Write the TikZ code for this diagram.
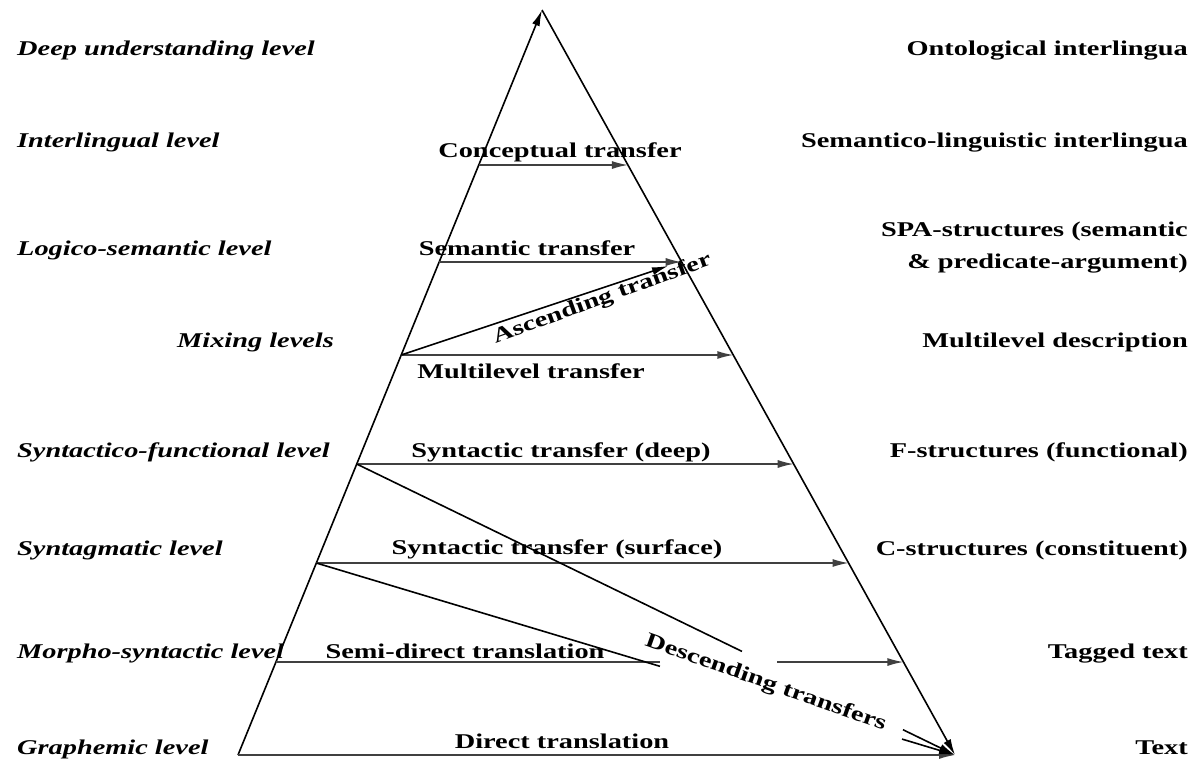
\documentclass[tikz,border=0pt]{standalone}
\usepackage{fontspec}
\setmainfont{Liberation Serif}[FakeStretch=1.35]
\usetikzlibrary{arrows.meta,calc}
\begin{document}
\begin{tikzpicture}[x=1pt,y=-1pt,
  every node/.style={font=\fontsize{21}{25}\selectfont\bfseries, inner sep=0pt},
  level/.style={anchor=base west, font=\fontsize{21}{25}\selectfont\bfseries\itshape},
  repr/.style={anchor=base east},
  transfer/.style={anchor=base},
  tip/.style={-{Latex[length=16pt,width=8pt]}},
  edge/.style={line width=1.6pt, black},
  tr/.style={line width=1.4pt, black!75},
]
\useasboundingbox (0,0) rectangle (1195,764);

% pyramid corners
\coordinate (A)  at (542,10);
\coordinate (BL) at (238,755);
\coordinate (BR) at (955,755);

% level points on the left and right sides
\coordinate (L1) at (478.8,165); \coordinate (R1) at (627.9,165);
\coordinate (L2) at (439.2,262); \coordinate (R2) at (681.7,262);
\coordinate (L3) at (401.2,355); \coordinate (R3) at (733.3,355);
\coordinate (L4) at (356.7,464); \coordinate (R4) at (793.7,464);
\coordinate (L5) at (316.3,563); \coordinate (R5) at (848.6,563);
\coordinate (L6) at (275.9,662); \coordinate (R6) at (903.4,662);

% levels
\node[level] (lv1) at (17,55)  {Deep understanding level};
\node[level] (lv2) at (17,147) {Interlingual level};
\node[level] (lv3) at (17,255) {Logico-semantic level};
\node[level] (lv4) at (177,347) {Mixing levels};
\node[level] (lv5) at (17,457) {Syntactico-functional level};
\node[level] (lv6) at (17,555) {Syntagmatic level};
\node[level] (lv7) at (17,658) {Morpho-syntactic level};
\node[level] (lv8) at (17,754) {Graphemic level};

% representations
\node[repr] (rp1) at (1188,55)  {Ontological interlingua};
\node[repr] (rp2) at (1188,147) {Semantico-linguistic interlingua};
\node[repr] (rp3a) at (1188,236) {SPA-structures (semantic};
\node[repr] (rp3b) at (1188,268) {\& predicate-argument)};
\node[repr] (rp4) at (1188,347) {Multilevel description};
\node[repr] (rp5) at (1188,457) {F-structures (functional)};
\node[repr] (rp6) at (1188,555) {C-structures (constituent)};
\node[repr] (rp7) at (1188,658) {Tagged text};
\node[repr] (rp8) at (1188,754) {Text};

% transfer labels
\node[transfer] (t1) at (560,157) {Conceptual transfer};
\node[transfer] (t2) at (527,255) {Semantic transfer};
\node[transfer] (t3) at (531,378) {Multilevel transfer};
\node[transfer] (t4) at (561,457) {Syntactic transfer (deep)};
\node[transfer] (t5) at (557,554) {Syntactic transfer (surface)};
\node[transfer] (t6) at (465,658) {Semi-direct translation};
\node[transfer] (t7) at (562,748) {Direct translation};
\node[transfer, rotate=20] (asc) at (604,304) {Ascending transfer};
\node[transfer, rotate=-19.5] (desc) at (764,688) {Descending transfers};

% pyramid sides
\draw[edge, tip] (BL) -- (A);
\draw[edge, tip] (A) -- (BR);

% horizontal transfers
\draw[tr, tip] (BL) -- (BR);
\draw[tr, tip] (L1) -- (R1);
\draw[tr, tip] (L2) -- (R2);
\draw[tr, tip] (L3) -- (R3);
\draw[tr, tip] (L4) -- (R4);
\draw[tr, tip] (L5) -- (R5);
\coordinate (g1) at (660,662);
\coordinate (g2) at (777,662);
\draw[tr] (L6) -- (g1);
\draw[tr, tip] (g2) -- (R6);

% ascending transfer
\coordinate (ascEnd) at (668,266);
\draw[edge, tip] (L3) -- (ascEnd);

% descending transfers, interrupted by their label
\coordinate (da1) at ($(L4)!0.644!(BR)$);
\coordinate (da2) at ($(L4)!0.913!(BR)$);
\coordinate (db1) at ($(L5)!0.538!(BR)$);
\coordinate (db2) at ($(L5)!0.917!(BR)$);
\draw[edge] (L4) -- (da1);
\draw[edge, tip] (da2) -- (BR);
\draw[edge] (L5) -- (db1);
\draw[edge, tip] (db2) -- (BR);
\end{tikzpicture}
\end{document}
